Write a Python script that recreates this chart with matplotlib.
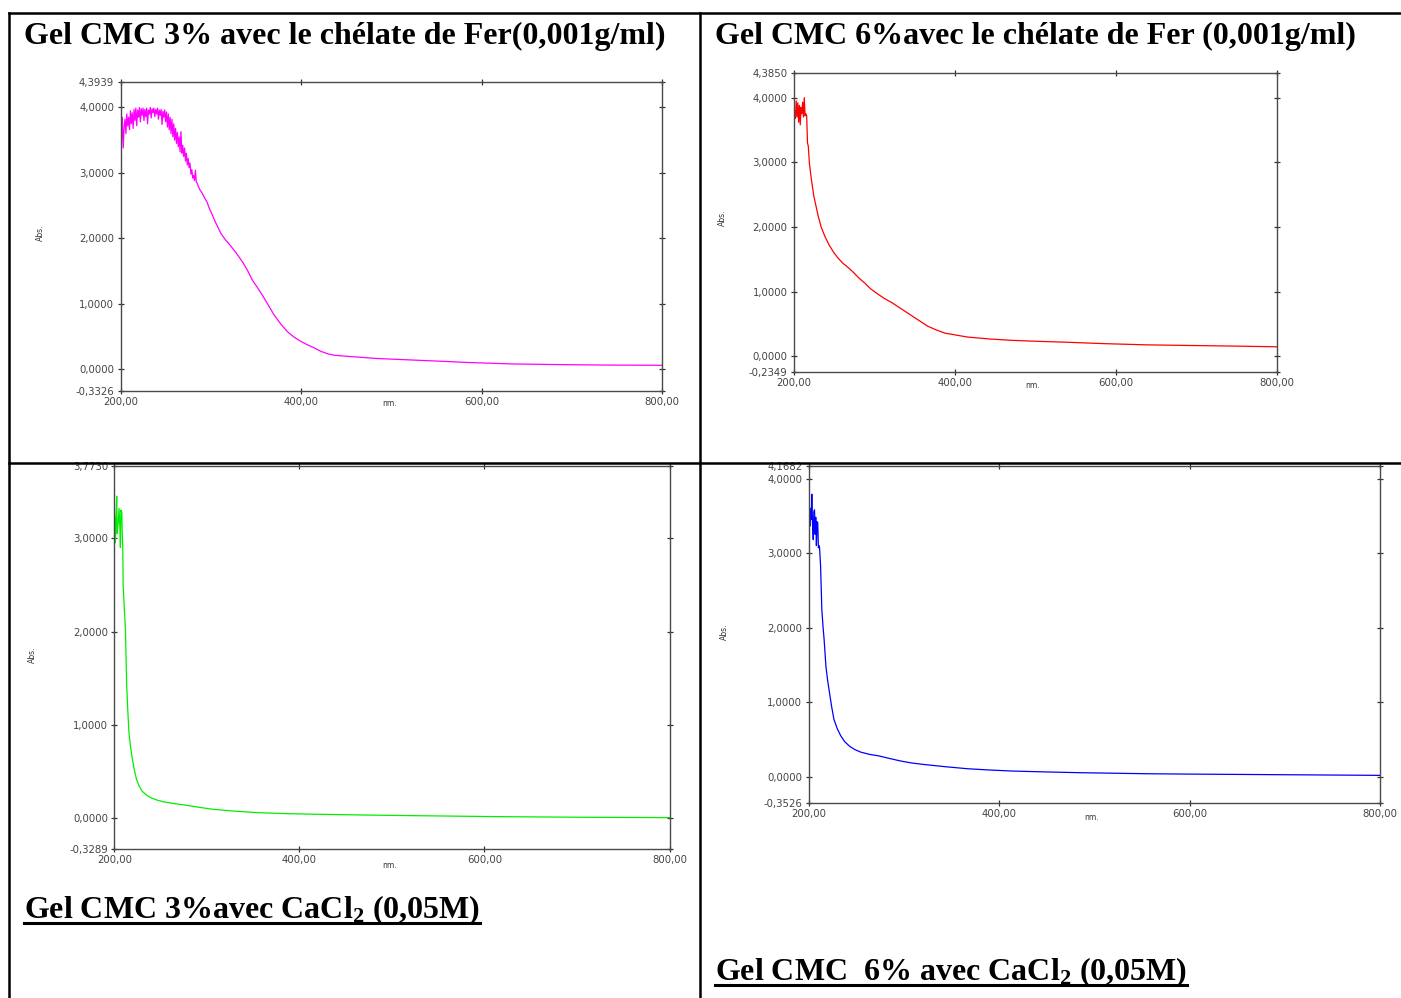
import matplotlib
matplotlib.use("Agg")
import matplotlib.pyplot as plt
from matplotlib.lines import Line2D

W, H = 1401, 998

# --- data (wavelength nm, absorbance) ---
# Gel CMC 3% + chelate de fer (magenta)
fer3_wl = list(range(200, 291)) + [
    293, 296, 298, 301, 305, 311, 316, 321, 328, 336, 341, 346, 352, 358, 364,
    370, 378, 385, 392, 400, 407, 415, 422, 430, 437, 445, 465, 484, 510, 534,
    560, 583, 610, 633, 680, 732, 800]
fer3_abs = [
    3.88, 3.45, 3.85, 3.38, 3.70, 3.82, 3.60, 3.90, 3.72, 3.85,
    3.66, 3.95, 3.75, 3.92, 3.68, 3.97, 3.80, 3.99, 3.72, 3.96,
    3.85, 4.00, 3.78, 3.98, 3.88, 3.99, 3.80, 3.97, 3.86, 3.99,
    3.75, 3.96, 3.90, 4.00, 3.84, 3.98, 3.92, 3.99, 3.86, 3.97,
    3.90, 3.99, 3.82, 3.96, 3.88, 3.97, 3.74, 3.94, 3.85, 3.96,
    3.78, 3.93, 3.70, 3.90, 3.66, 3.85, 3.60, 3.82, 3.55, 3.75,
    3.50, 3.68, 3.45, 3.62, 3.40, 3.55, 3.32, 3.63, 3.30, 3.42,
    3.25, 3.38, 3.18, 3.30, 3.12, 3.22, 3.08, 3.15, 2.98, 3.05,
    2.92, 2.96, 2.88, 3.04, 2.86, 2.84, 2.80, 2.77, 2.74, 2.72,
    2.70,
    2.62, 2.55, 2.47, 2.38, 2.25, 2.08, 1.98, 1.90, 1.78, 1.62, 1.50, 1.36,
    1.24, 1.11, 0.97, 0.83, 0.68, 0.57, 0.49, 0.42, 0.37, 0.32, 0.27, 0.23,
    0.21, 0.20, 0.18, 0.16, 0.145, 0.13, 0.115, 0.10, 0.088, 0.077, 0.068,
    0.06, 0.056]

# Gel CMC 6% + chelate de fer (red)
fer6_wl = [200, 201, 202, 203, 204, 205, 206, 207, 208, 209, 210, 211, 212, 213,
           214, 215, 216, 217, 218, 219.4, 222, 225, 228, 230.5, 234, 238.8,
           244, 250, 255, 261, 268, 274.8, 281, 288.6, 295, 302.5, 312, 322,
           333, 344, 355, 366, 377, 388, 402, 416, 430, 443.8, 470, 499, 540,
           582, 637.6, 693, 750, 800]
fer6_abs = [3.65, 3.80, 3.68, 3.95, 3.70, 3.92, 3.62, 3.88, 3.58, 3.85, 3.75,
            3.93, 3.70, 4.00, 3.72, 3.75, 3.72, 3.30, 3.25, 2.98, 2.72, 2.47,
            2.30, 2.16, 2.00, 1.85, 1.72, 1.60, 1.52, 1.44, 1.37, 1.29, 1.21,
            1.13, 1.05, 0.98, 0.90, 0.83, 0.74, 0.65, 0.56, 0.47, 0.41, 0.36,
            0.33, 0.30, 0.285, 0.27, 0.25, 0.236, 0.22, 0.20, 0.18, 0.17, 0.16,
            0.15]

# Gel CMC 3% + CaCl2 (green)
ca3_wl = [200, 200.5, 201, 202, 202.5, 203, 204, 205, 206, 206.5, 207, 208,
          208.5, 209, 209.5, 210.7, 211.9, 212.6, 213.3, 214.5, 215.7, 217.5,
          219.5, 221.5, 223.8, 226.5, 230, 234.5, 239.5, 246, 253.8, 265,
          277.6, 290, 306, 328, 353.8, 385, 420, 470, 515.6, 560, 610.7, 706,
          800]
ca3_abs = [3.26, 3.20, 2.95, 3.30, 3.45, 3.05, 3.15, 3.32, 3.10, 2.90, 3.30,
           3.28, 3.05, 2.90, 2.49, 2.25, 2.03, 1.72, 1.42, 1.15, 0.92, 0.76,
           0.63, 0.52, 0.42, 0.35, 0.29, 0.25, 0.22, 0.195, 0.175, 0.157,
           0.14, 0.12, 0.097, 0.078, 0.061, 0.05, 0.043, 0.035, 0.029, 0.024,
           0.018, 0.011, 0.007]

# Gel CMC 6% + CaCl2 (blue)
ca6_wl = [200, 200.7, 201.4, 202, 202.8, 203.5, 204.2, 205, 205.6, 206.3, 207,
          207.6, 208.3, 209, 209.7, 210.4, 211, 211.6, 212.7, 214, 215.2,
          216.4, 218.3, 220, 222, 224.3, 226.7, 230, 233.8, 238, 243, 248.5,
          254.8, 264, 273.6, 285, 297, 308, 320.5, 343, 367, 390, 414, 450,
          484.5, 520, 555, 600, 648.6, 720, 800]
ca6_abs = [3.55, 3.72, 3.36, 3.60, 3.45, 3.79, 3.40, 3.18, 3.55, 3.58, 3.25,
           3.48, 3.10, 3.42, 3.41, 3.07, 3.10, 3.08, 2.82, 2.24, 2.02, 1.84,
           1.48, 1.30, 1.13, 0.94, 0.77, 0.65, 0.55, 0.47, 0.41, 0.365, 0.33,
           0.30, 0.28, 0.245, 0.21, 0.185, 0.165, 0.135, 0.107, 0.09, 0.076,
           0.064, 0.054, 0.047, 0.040, 0.035, 0.031, 0.025, 0.018]

x_ticks = [200, 400, 600, 800]
y_ticks = [0, 1, 2, 3, 4]

# limits printed by the instrument
fer3_ylim = (-0.3326, 4.3939)
fer6_ylim = (-0.2349, 4.3850)
ca3_ylim = (-0.3289, 3.7730)
ca6_ylim = (-0.3526, 4.1682)

plt.rcParams.update({
    "font.family": "DejaVu Sans",
    "mathtext.fontset": "custom",
    "mathtext.rm": "Liberation Serif:bold",
    "mathtext.it": "Liberation Serif:bold",
    "mathtext.bf": "Liberation Serif:bold",
})

fig = plt.figure(figsize=(W / 100, H / 100), dpi=100)


def px_axes(left, top, right, bottom):
    return fig.add_axes([left / W, 1 - bottom / H, (right - left) / W, (bottom - top) / H])


def fmt(v, nd):
    return f"{v:.{nd}f}".replace(".", ",")


def spectrum(rect, wl, ab, color, ylim, abs_xy, nm_xy):
    ax = px_axes(*rect)
    ax.plot(wl, ab, color=color, lw=0.9)
    ax.set_xlim(200, 800)
    ax.set_ylim(*ylim)
    ax.set_xticks(x_ticks)
    ax.set_xticklabels([fmt(v, 2) for v in x_ticks])
    yt = [ylim[0]] + y_ticks + [ylim[1]]
    yt = [v for v in yt if ylim[0] <= v <= ylim[1]]
    ax.set_yticks(yt)
    ax.set_yticklabels([fmt(v, 4) for v in yt])
    for s in ax.spines.values():
        s.set_color("#4a4a4a")
        s.set_linewidth(1.0)
    ax.tick_params(axis="both", direction="inout", length=5, width=0.9,
                   color="#333333", labelsize=7.3, labelcolor="#444444",
                   top=True, right=True, pad=2)
    fig.text(abs_xy[0] / W, 1 - abs_xy[1] / H, "Abs.", rotation=90,
             fontsize=5.5, color="#333333", ha="center", va="center")
    fig.text(nm_xy[0] / W, 1 - nm_xy[1] / H, "nm.", fontsize=5.5,
             color="#333333", ha="center", va="center")
    return ax


spectrum((120.5, 81.7, 662, 390.7), fer3_wl, fer3_abs, "#ff00ff", fer3_ylim,
         (40, 233), (390, 404))
spectrum((793.8, 72.7, 1277, 371.7), fer6_wl, fer6_abs, "#ff0000", fer6_ylim,
         (722, 218), (1033, 385))
spectrum((114.4, 466, 669.5, 849), ca3_wl, ca3_abs, "#00ee00", ca3_ylim,
         (32, 655), (390, 866))
spectrum((808.5, 466, 1380, 803), ca6_wl, ca6_abs, "#0000ff", ca6_ylim,
         (724, 632), (1092, 818))

# table borders
border_kw = dict(color="black", lw=1.8, transform=fig.transFigure)
for (x0, y0, x1, y1) in [(9, 13, W, 13), (9, 463, W, 463),
                         (9, 13, 9, H), (700, 13, 700, H)]:
    fig.add_artist(Line2D([x0 / W, x1 / W], [1 - y0 / H, 1 - y1 / H], **border_kw))

title_kw = dict(family="Liberation Serif", weight="bold", fontsize=23,
                ha="left", va="baseline")
fig.text(24 / W, 1 - 44 / H, "Gel CMC 3% avec le chélate de Fer(0,001g/ml)", **title_kw)
fig.text(715 / W, 1 - 44 / H, "Gel CMC 6%avec le chélate de Fer (0,001g/ml)", **title_kw)

under = [
    fig.text(24 / W, 1 - 918 / H, "Gel CMC 3%avec CaCl$_2$ (0,05M)", **title_kw),
    fig.text(715 / W, 1 - 980 / H, "Gel CMC  6% avec CaCl$_2$ (0,05M)", **title_kw),
]
fig.canvas.draw()
renderer = fig.canvas.get_renderer()
for t in under:
    bb = t.get_window_extent(renderer)
    yline = (t.get_position()[1] * H - 5) / H
    fig.add_artist(Line2D([bb.x0 / W, bb.x1 / W], [yline, yline], color="black",
                          lw=2.2, transform=fig.transFigure))

fig.savefig("out.png", dpi=100, facecolor="white")
